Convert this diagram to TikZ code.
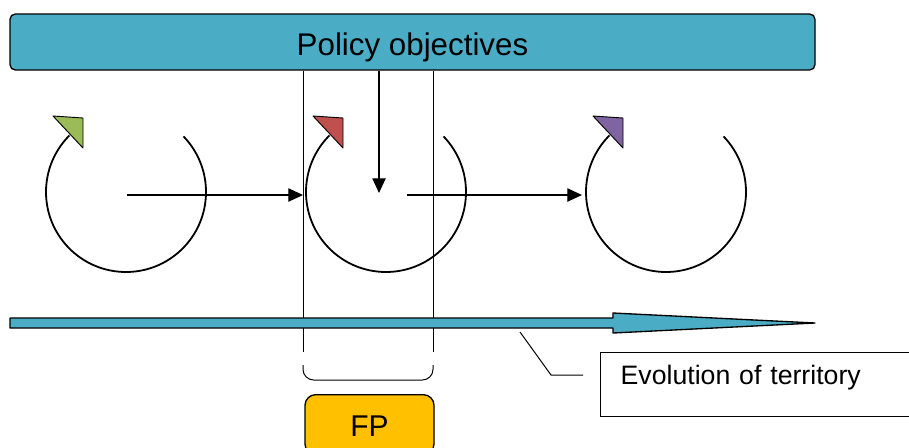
\documentclass[tikz,border=0pt]{standalone}
\usepackage{fontspec}
\setmainfont{Liberation Sans}
\usetikzlibrary{arrows.meta}

\definecolor{polblue}{RGB}{75,172,198}
\definecolor{fpgold}{RGB}{255,192,0}
\definecolor{cyclegreen}{RGB}{155,187,89}
\definecolor{cyclered}{RGB}{192,80,77}
\definecolor{cyclepurple}{RGB}{128,100,162}

\begin{document}
\begin{tikzpicture}[x=0.75pt,y=0.75pt,yscale=-1,xscale=1,
  thinline/.style={line width=0.75pt},
  loopline/.style={line width=1.35pt},
  flow/.style={line width=0.9pt,-{Triangle[length=11pt,width=10pt]}},
  headtip/.style={draw=black,line width=0.7pt,line join=round},
  box/.style={draw,line width=1pt,inner sep=0pt}]
\clip (0,0) rectangle (909,447);

%Policy bar
\node (policy) [box,fill=polblue,rounded corners=4pt,minimum width=603.75pt,minimum height=42pt,text height=19.5pt,text depth=0pt,font=\fontsize{23.5}{28}\selectfont] at (412.5,42) {Policy objectives};

%Cycles with their arrowheads
\foreach \cx/\col in {126/cyclegreen,386/cyclered,666/cyclepurple}{
  \draw [loopline] (\cx,192) ++(-44:80) arc [start angle=-44,end angle=225,radius=80];
  \filldraw [headtip,fill=\col] (\cx-73,116) -- (\cx-43,118) -- (\cx-43,148) -- cycle;
}

%Flows between cycles
\coordinate (s1) at (127,195);
\coordinate (e1) at (303,195);
\coordinate (s2) at (407,195);
\coordinate (e2) at (582,195);
\coordinate (down) at (379,193);
\draw [flow] (s1) -- (e1);
\draw [flow] (s2) -- (e2);
\draw [flow] (policy.south -| down) -- (down);

%FP window
\coordinate (fpl) at (303,352);
\coordinate (fpr) at (433,352);
\draw [thinline] (policy.south -| fpl) -- (fpl);
\draw [thinline] (policy.south -| fpr) -- (fpr);
\draw [thinline,rounded corners=8pt] (303,365) -- (303,380) -- (433,380) -- (433,365);
\node (fp) [box,fill=fpgold,rounded corners=8pt,minimum width=96.75pt,minimum height=45pt,text height=18pt,text depth=0pt,anchor=north,font=\fontsize{22.5}{27}\selectfont] at (369.5,394) {FP};

%Territory arrow
\draw [line width=1pt,fill=polblue,line join=round] (10,318) -- (613,318) -- (613,313) -- (815,323) -- (613,333) -- (613,328) -- (10,328) -- cycle;

%Callout
\coordinate (tick) at (520,332);
\coordinate (elbow) at (551,375);
\coordinate (callend) at (583,375);
\draw [thinline] (tick) -- (elbow) -- (callend);
\node (evo) [box,anchor=north west,minimum height=48pt,inner xsep=15pt,text width=250pt,text height=5pt,text depth=5pt,align=left,font=\fontsize{20}{24}\selectfont] at (600,352) {Evolution of territory};

\end{tikzpicture}
\end{document}
